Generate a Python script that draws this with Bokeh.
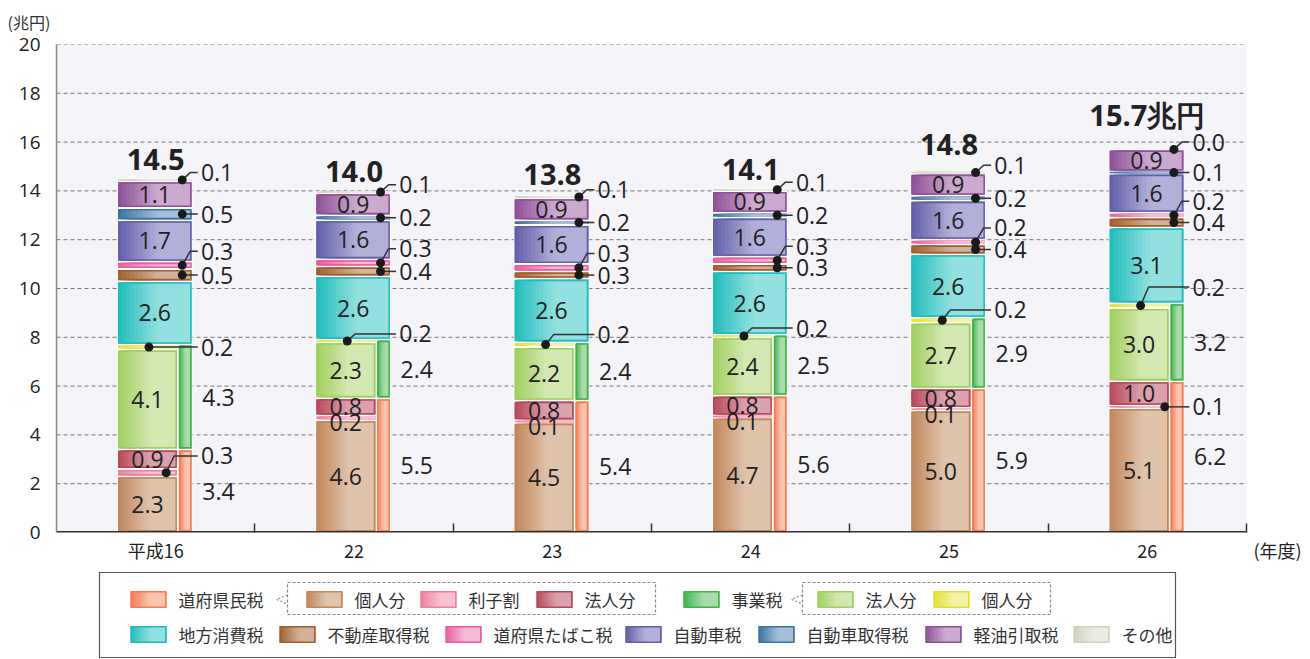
from bokeh.plotting import figure
from bokeh.models import Range1d, FixedTicker, ColumnDataSource
from bokeh.layouts import column
from bokeh.embed import file_html
from bokeh.resources import INLINE
from bokeh.core.properties import value

# ---------------- data ----------------
years = ["平成16", "22", "23", "24", "25", "26"]
pref_indiv = [2.3, 4.6, 4.5, 4.7, 5.0, 5.1]      # 道府県民税 個人分
pref_interest = [0.3, 0.2, 0.1, 0.1, 0.1, 0.1]   # 利子割
pref_corp = [0.9, 0.8, 0.8, 0.8, 0.8, 1.0]       # 法人分
pref_total = [3.4, 5.5, 5.4, 5.6, 5.9, 6.2]      # 道府県民税
biz_corp = [4.1, 2.3, 2.2, 2.4, 2.7, 3.0]        # 事業税 法人分
biz_indiv = [0.2, 0.2, 0.2, 0.2, 0.2, 0.2]       # 事業税 個人分
biz_total = [4.3, 2.4, 2.4, 2.5, 2.9, 3.2]       # 事業税
consumption = [2.6, 2.6, 2.6, 2.6, 2.6, 3.1]     # 地方消費税
real_estate = [0.5, 0.4, 0.3, 0.3, 0.4, 0.4]     # 不動産取得税
tobacco = [0.3, 0.3, 0.3, 0.3, 0.2, 0.2]         # 道府県たばこ税
auto_tax = [1.7, 1.6, 1.6, 1.6, 1.6, 1.6]        # 自動車税
auto_acq = [0.5, 0.2, 0.2, 0.2, 0.2, 0.1]        # 自動車取得税
light_oil = [1.1, 0.9, 0.9, 0.9, 0.9, 0.9]       # 軽油引取税
other = [0.1, 0.1, 0.1, 0.1, 0.1, 0.0]           # その他
totals = [14.5, 14.0, 13.8, 14.1, 14.8, 15.7]
y_ticks = [0, 2, 4, 6, 8, 10, 12, 14, 16, 18, 20]
unit_y = "(兆円)"
unit_x = "(年度)"
total_suffix = "兆円"

names = {
    "pref": "道府県民税", "pref_indiv": "個人分", "pref_interest": "利子割", "pref_corp": "法人分",
    "biz": "事業税", "biz_corp": "法人分", "biz_indiv": "個人分",
    "consumption": "地方消費税", "real_estate": "不動産取得税", "tobacco": "道府県たばこ税",
    "auto_tax": "自動車税", "auto_acq": "自動車取得税", "light_oil": "軽油引取税", "other": "その他",
}

# ---------------- styles ----------------
colors = {
    "pref": ("#f47b52", "#fbc4ae"),
    "pref_indiv": ("#c0875a", "#dfc3ab"),
    "pref_interest": ("#f07ea0", "#f9c2d3"),
    "pref_corp": ("#b8475a", "#dba2ad"),
    "biz": ("#3cb44b", "#a9dcab"),
    "biz_corp": ("#9fcf5f", "#d3e8b1"),
    "biz_indiv": ("#e0e030", "#f3f3a8"),
    "consumption": ("#1fbcbc", "#92e0df"),
    "real_estate": ("#a0602d", "#d2b09a"),
    "tobacco": ("#ea5d9f", "#f6bcd7"),
    "auto_tax": ("#625ea9", "#b2b0d8"),
    "auto_acq": ("#3b73a3", "#a4bfd6"),
    "light_oil": ("#8e4f97", "#cca9cf"),
    "other": ("#d0d0c0", "#ebebe2"),
}
NUM_FONT = "Open Sans"
JP_FONT = "Noto Sans CJK JP"
TXT = "#222222"

# layout helpers (label placement per year)
total_dy = [0.8, 0.79, 0.86, 0.78, 1.1, 1.45]
yellow_dy = [0.0, 0.29, 0.41, 0.33, 0.42, 0.76]
interest_callout = [True, False, False, False, False, True]
interest_dot_dx = [0.053, 0, 0, 0, 0, 0.088]
interest_dy = [0.69, 0, 0, 0, 0, 0.0]

FW, FH = 1190, 491          # pixel size of the plotting area proper
FRAME_L = 56
FRAME_W = 1310 - FRAME_L    # frame extends to the page edge (room for the x unit)
N = len(years)
PX = N / FW
PY = 20.0 / FH
X_END = N * FRAME_W / FW
UNIT_X_POS = N + 31 * PX
LEFT, SPLIT, RIGHT = -0.195, 0.112, 0.186


def hex2rgb(h):
    h = h.lstrip("#")
    return [int(h[k:k + 2], 16) for k in (0, 2, 4)]


def mix(c1, c2, t):
    a, b = hex2rgb(c1), hex2rgb(c2)
    return "#%02x%02x%02x" % tuple(int(round(a[k] + (b[k] - a[k]) * t)) for k in range(3))


def gradient(l, r, b, t, dark, light, store, n=10, frac=0.55):
    w = r - l
    for k in range(n):
        x0 = l + w * frac * k / n
        store["left"].append(x0)
        store["right"].append(r)
        store["bottom"].append(b)
        store["top"].append(t)
        store["color"].append(mix(dark, light, (k + 0.5) / n))
    store["left"].append(l + w * frac)
    store["right"].append(r)
    store["bottom"].append(b)
    store["top"].append(t)
    store["color"].append(light)


# ---------------- stacking ----------------
segs = []
mids = {}
tops = []
for i in range(N):
    c = i + 0.5
    top1 = pref_total[i]
    cum = 0.0
    for key, arr in (("pref_indiv", pref_indiv), ("pref_interest", pref_interest), ("pref_corp", pref_corp)):
        b = cum
        t = min(cum + arr[i], top1)
        cum += arr[i]
        segs.append((key, c + LEFT, c + SPLIT, b, t))
        mids[(key, i)] = (b + t) / 2
    segs.append(("pref", c + SPLIT, c + RIGHT, 0.0, top1))
    mids[("pref", i)] = top1 / 2
    base = top1
    top2 = base + biz_total[i]
    cum = base
    for key, arr in (("biz_corp", biz_corp), ("biz_indiv", biz_indiv)):
        b = cum
        t = min(cum + arr[i], top2)
        cum += arr[i]
        segs.append((key, c + LEFT, c + SPLIT, b, t))
        mids[(key, i)] = (b + t) / 2
    segs.append(("biz", c + SPLIT, c + RIGHT, base, top2))
    mids[("biz", i)] = (base + top2) / 2
    cum = top2
    for key, arr in (("consumption", consumption), ("real_estate", real_estate), ("tobacco", tobacco),
                     ("auto_tax", auto_tax), ("auto_acq", auto_acq), ("light_oil", light_oil), ("other", other)):
        b = cum
        t = cum + arr[i]
        cum = t
        segs.append((key, c + LEFT, c + RIGHT, b, t))
        mids[(key, i)] = (b + t) / 2
    tops.append(cum)

# ---------------- main figure ----------------
p = figure(width=1310, height=565, x_range=Range1d(0, X_END), y_range=Range1d(0, 20),
           output_backend="svg", toolbar_location=None, title=unit_y,
           min_border_left=FRAME_L, min_border_right=0, min_border_top=41, min_border_bottom=33)
p.outline_line_color = None
p.background_fill_color = "white"
p.border_fill_color = "white"
p.title.align = "left"
p.title.offset = -49
p.title.standoff = 18
p.title.vertical_align = "top"
p.title.text_font = JP_FONT
p.title.text_font_size = "16px"
p.title.text_font_style = "normal"
p.title.text_color = "#333333"

p.yaxis.ticker = FixedTicker(ticks=y_ticks)
p.grid.visible = False
p.yaxis.axis_line_color = "#888888"
p.yaxis.axis_line_width = 1.5
p.yaxis.major_tick_line_color = None
p.yaxis.minor_tick_line_color = None
p.yaxis.major_label_text_font = NUM_FONT
p.yaxis.major_label_text_font_size = "19px"
p.yaxis.major_label_text_color = TXT
p.yaxis.major_label_standoff = 10

centers = [i + 0.5 for i in range(N)]
p.xaxis.ticker = FixedTicker(ticks=centers + [UNIT_X_POS], minor_ticks=[i + 1 for i in range(N)])
overrides = {centers[i]: years[i] for i in range(N)}
overrides[UNIT_X_POS] = unit_x
p.xaxis.major_label_overrides = overrides
p.xaxis.axis_line_color = None
p.xaxis.major_tick_line_color = None
p.xaxis.minor_tick_in = 9
p.xaxis.minor_tick_out = 0
p.xaxis.minor_tick_line_color = "#333333"
p.xaxis.minor_tick_line_width = 1.5
p.xaxis.major_label_text_font = JP_FONT
p.xaxis.major_label_text_font_size = "18px"
p.xaxis.major_label_text_color = TXT
p.xaxis.major_label_standoff = -2

# plotting-area background, dashed grid and base line (only up to the last category)
p.quad(left=[0], right=[N], bottom=[0], top=[20], fill_color="#f4f4f9", line_color=None)
p.segment(x0=[0] * (len(y_ticks) - 1), x1=[N] * (len(y_ticks) - 1), y0=y_ticks[1:], y1=y_ticks[1:],
          line_color="#777777", line_width=1, line_dash="4 3")

white = dict(left=[], right=[], bottom=[], top=[])
fills = dict(left=[], right=[], bottom=[], top=[], color=[])
borders = dict(left=[], right=[], bottom=[], top=[], color=[])
for key, l, r, b, t in segs:
    if t - b <= 1e-9:
        continue
    dark, light = colors[key]
    white["left"].append(l); white["right"].append(r)
    white["bottom"].append(b); white["top"].append(t)
    li, ri, bi, ti = l + PX, r - PX, b + PY, t - PY
    if ti - bi < 1.5 * PY:
        m = (b + t) / 2
        bi, ti = m - 0.75 * PY, m + 0.75 * PY
    gradient(li, ri, bi, ti, dark, light, fills)
    if (t - b) / PY >= 6:
        borders["left"].append(li + 0.75 * PX); borders["right"].append(ri - 0.75 * PX)
        borders["bottom"].append(bi + 0.75 * PY); borders["top"].append(ti - 0.75 * PY)
        borders["color"].append(dark)

p.quad(source=ColumnDataSource(white), left="left", right="right", bottom="bottom", top="top",
       fill_color="white", line_color=None)
p.quad(source=ColumnDataSource(fills), left="left", right="right", bottom="bottom", top="top",
       fill_color="color", line_color=None)
p.quad(source=ColumnDataSource(borders), left="left", right="right", bottom="bottom", top="top",
       fill_color=None, line_color="color", line_width=1.5)
p.segment(x0=[0], x1=[N], y0=[0], y1=[0], line_color="#333333", line_width=3)

# ---------------- labels ----------------
inside = dict(x=[], y=[], text=[])
right_lbl = dict(x=[], y=[], text=[])
dots = dict(x=[], y=[])
leaders = dict(xs=[], ys=[])
totals_lbl = dict(x=[], y=[], text=[])

LX_LEFT = (LEFT + SPLIT) / 2
LX_FULL = (LEFT + RIGHT) / 2
LABEL_X = 0.228
LINE_END = 0.212
ELBOW = 8 * PX

arrays = {"pref_indiv": pref_indiv, "pref_interest": pref_interest, "pref_corp": pref_corp,
          "pref": pref_total, "biz_corp": biz_corp, "biz_indiv": biz_indiv, "biz": biz_total,
          "consumption": consumption, "real_estate": real_estate, "tobacco": tobacco,
          "auto_tax": auto_tax, "auto_acq": auto_acq, "light_oil": light_oil, "other": other}


def callout(i, key, dot_dx, dy):
    c = i + 0.5
    yd = mids[(key, i)]
    xd = c + dot_dx
    yl = yd + dy
    dots["x"].append(xd); dots["y"].append(yd)
    if abs(dy) < 1e-9:
        leaders["xs"].append([xd, c + LINE_END]); leaders["ys"].append([yd, yd])
    else:
        leaders["xs"].append([xd, xd + ELBOW, c + LINE_END]); leaders["ys"].append([yd, yl, yl])
    right_lbl["x"].append(c + LABEL_X); right_lbl["y"].append(yl)
    right_lbl["text"].append("%.1f" % arrays[key][i])


for i in range(N):
    c = i + 0.5
    for key in ("pref_indiv", "pref_corp", "biz_corp"):
        inside["x"].append(c + LX_LEFT); inside["y"].append(mids[(key, i)])
        inside["text"].append("%.1f" % arrays[key][i])
    for key in ("consumption", "auto_tax", "light_oil"):
        inside["x"].append(c + LX_FULL); inside["y"].append(mids[(key, i)])
        inside["text"].append("%.1f" % arrays[key][i])
    if interest_callout[i]:
        callout(i, "pref_interest", interest_dot_dx[i], interest_dy[i])
    else:
        inside["x"].append(c + LX_LEFT); inside["y"].append(mids[("pref_interest", i)] - 0.2)
        inside["text"].append("%.1f" % pref_interest[i])
    for key in ("pref", "biz"):
        right_lbl["x"].append(c + LABEL_X + 0.007); right_lbl["y"].append(mids[(key, i)])
        right_lbl["text"].append("%.1f" % arrays[key][i])
    callout(i, "biz_indiv", -0.034, yellow_dy[i])
    callout(i, "real_estate", 0.134, 0.0)
    callout(i, "tobacco", 0.134, 0.58)
    callout(i, "auto_acq", 0.134, 0.0)
    callout(i, "other", 0.134, 0.3)
    totals_lbl["x"].append(c)
    totals_lbl["y"].append(tops[i] + total_dy[i])
    totals_lbl["text"].append("%.1f" % totals[i] + (total_suffix if i == N - 1 else ""))

p.multi_line(source=ColumnDataSource(leaders), xs="xs", ys="ys", line_color="#333333", line_width=1.5)
p.scatter(source=ColumnDataSource(dots), x="x", y="y", size=9, fill_color="#1a1a1a", line_color=None)
p.text(source=ColumnDataSource(inside), x="x", y="y", text="text", text_font=value(NUM_FONT),
       text_font_size="23px", text_color=TXT, text_align="center", text_baseline="middle")
p.text(source=ColumnDataSource(right_lbl), x="x", y="y", text="text", text_font=value(NUM_FONT),
       text_font_size="23px", text_color=TXT, text_align="left", text_baseline="middle")
p.text(source=ColumnDataSource(totals_lbl), x="x", y="y", text="text", text_font=value(NUM_FONT),
       text_font_size="29px", text_font_style="bold", text_color=TXT, text_align="center",
       text_baseline="middle")

# ---------------- legend figure (x/y in page pixels; frame aligned with the main frame) ----------------
LW, LH = 1310, 93
LY0 = 565
lg = figure(width=LW, height=LH, x_range=Range1d(FRAME_L, LW), y_range=Range1d(LH, 0),
            output_backend="svg", toolbar_location=None, x_axis_location=None, y_axis_location=None,
            min_border=0, min_border_left=FRAME_L, min_border_right=0, min_border_top=0, min_border_bottom=0)
lg.outline_line_color = None
lg.grid.visible = False
lg.background_fill_color = "white"

legend_keys = ["pref", "pref_indiv", "pref_interest", "pref_corp", "biz", "biz_corp", "biz_indiv",
               "consumption", "real_estate", "tobacco", "auto_tax", "auto_acq", "light_oil", "other"]
legend_x = [130, 306, 420, 536, 683, 817, 933, 130, 279, 445, 625, 758, 925, 1073]
legend_row = [0, 0, 0, 0, 0, 0, 0, 1, 1, 1, 1, 1, 1, 1]
row_y = [599 - LY0, 634 - LY0]
SW, SH = 36, 17

lf = dict(left=[], right=[], bottom=[], top=[], color=[])
lb = dict(left=[], right=[], bottom=[], top=[], color=[])
lt = dict(x=[], y=[], text=[])
for k, key in enumerate(legend_keys):
    dark, light = colors[key]
    x0 = legend_x[k]
    yc = row_y[legend_row[k]]
    gradient(x0, x0 + SW, yc - SH / 2, yc + SH / 2, dark, light, lf)
    lb["left"].append(x0 + 0.75); lb["right"].append(x0 + SW - 0.75)
    lb["bottom"].append(yc - SH / 2 + 0.75); lb["top"].append(yc + SH / 2 - 0.75)
    lb["color"].append(dark)
    lt["x"].append(x0 + 48); lt["y"].append(yc); lt["text"].append(names[key])

box_top, box_bot = 572 - LY0, 657 - LY0
dash_top, dash_bot = 582 - LY0, 614 - LY0
cy = row_y[0]
lg.quad(left=[99], right=[1175], top=[box_top], bottom=[box_bot], fill_color=None,
        line_color="#555555", line_width=1.2)
lg.quad(left=[287, 802], right=[655, 1050], top=[dash_top, dash_top], bottom=[dash_bot, dash_bot],
        fill_color=None, line_color="#888888", line_width=1.2, line_dash="3 2")
lg.multi_line(xs=[[287, 276, 287], [802, 791, 802]], ys=[[cy - 4.5, cy, cy + 4.5], [cy - 4.5, cy, cy + 4.5]],
              line_color="#888888", line_width=1.2, line_dash="2 2")
lg.quad(source=ColumnDataSource(lf), left="left", right="right", bottom="bottom", top="top",
        fill_color="color", line_color=None)
lg.quad(source=ColumnDataSource(lb), left="left", right="right", bottom="bottom", top="top",
        fill_color=None, line_color="color", line_width=1.5)
lg.text(source=ColumnDataSource(lt), x="x", y="y", text="text", text_font=value(JP_FONT),
        text_font_size="17px", text_color="#333333", text_align="left", text_baseline="middle")

layout = column(p, lg, spacing=0)
open("out.html", "w").write(file_html(layout, INLINE))
